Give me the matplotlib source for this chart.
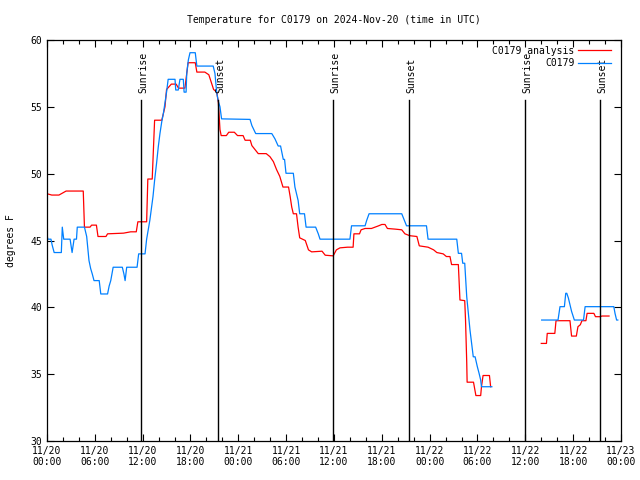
import numpy as np
import matplotlib
matplotlib.use("Agg")
from matplotlib import pyplot as plt

# hours since 2024-11-20 00:00 UTC
red_h = [0.0, 0.6, 1.5, 2.4, 4.55, 4.7, 5.4, 5.6, 6.2, 6.4, 7.4, 7.6, 9.6, 10.5, 11.2, 11.4,
         12.5, 12.65, 13.2, 13.5, 14.4, 14.8, 15.0, 15.6, 16.2, 16.5, 17.3, 17.7, 18.6, 18.8,
         19.8, 20.3, 20.9, 21.3, 21.5, 21.7, 21.85, 22.5, 22.8, 23.5, 23.9, 24.6, 24.85, 25.5,
         25.7, 26.1, 26.5, 27.5, 27.97, 28.4, 28.8, 29.2, 29.6, 30.3, 30.5, 30.7, 30.9, 31.3,
         31.5, 31.7, 32.4, 32.8, 33.2, 34.5, 34.9, 35.9, 36.3, 36.75, 37.7, 38.4, 38.5, 39.2,
         39.4, 39.9, 40.7, 41.6, 42.0, 42.4, 42.7, 43.7, 44.5, 44.9, 45.5, 46.4, 46.7, 47.8,
         48.5, 48.9, 49.7, 50.1, 50.55, 50.75, 51.6, 51.8, 52.4, 52.5, 52.65, 52.7, 53.5, 53.8,
         54.4, 54.5, 54.7, 55.5, 55.65,
         None,
         62.0, 62.65, 62.75, 63.7, 63.85, 65.6, 65.8, 66.4, 66.6, 66.9, 67.1, 67.6, 67.75,
         68.6, 68.8, 69.4, 69.6, 70.5]
red_t = [48.5, 48.4, 48.4, 48.7, 48.7, 46.0, 46.0, 46.15, 46.15, 45.3, 45.3, 45.5, 45.55, 45.65, 45.65, 46.4,
         46.4, 49.6, 49.6, 54.0, 54.0, 55.0, 56.3, 56.7, 56.7, 56.4, 56.4, 58.3, 58.3, 57.6,
         57.6, 57.4, 56.3, 56.1, 55.3, 53.3, 52.85, 52.85, 53.1, 53.1, 52.85, 52.85, 52.5, 52.5,
         52.1, 51.8, 51.5, 51.5, 51.27, 50.9, 50.3, 49.8, 49.0, 49.0, 48.3, 47.5, 47.0, 47.0,
         46.0, 45.2, 45.0, 44.3, 44.15, 44.2, 43.9, 43.85, 44.3, 44.45, 44.5, 44.5, 45.5, 45.5,
         45.8, 45.9, 45.9, 46.1, 46.2, 46.2, 45.9, 45.85, 45.8, 45.5, 45.36, 45.3, 44.6, 44.5,
         44.3, 44.1, 44.0, 43.8, 43.8, 43.2, 43.2, 40.55, 40.5, 39.05, 35.9, 34.4, 34.4, 33.4,
         33.4, 34.06, 34.9, 34.9, 34.06,
         None,
         37.3, 37.3, 38.05, 38.05, 39.0, 39.0, 37.85, 37.85, 38.55, 38.7, 39.0, 39.0, 39.55,
         39.55, 39.3, 39.3, 39.35, 39.35]

blue_h = [0.0, 0.1, 0.5, 0.65, 0.9, 1.8, 1.92, 2.1, 2.9, 3.05, 3.15, 3.4, 3.7, 3.8, 4.7, 4.98,
          5.27, 5.48, 5.68, 5.9, 6.55, 6.75, 7.6, 7.8, 8.0, 8.3, 9.45, 9.65, 9.8, 10.0, 11.3,
          11.5, 12.3, 12.5, 12.7, 12.9, 13.1, 13.3, 13.5, 13.75, 13.96, 14.17, 14.4, 14.6, 14.8,
          15.0, 15.2, 16.06, 16.15, 16.47, 16.68, 17.1, 17.2, 17.45, 17.53, 17.73, 17.94, 18.6,
          18.8, 20.85, 21.07, 21.3, 21.5, 21.7, 21.9, 25.47, 25.7, 26.18, 28.2, 28.6, 29.0,
          29.3, 29.64, 29.8, 29.98, 30.9, 31.1, 31.3, 31.5, 31.7, 32.3, 32.5, 33.7, 34.03,
          34.25, 38.0, 38.2, 39.9, 40.1, 40.4, 44.5, 44.9, 45.1, 47.6, 47.8, 51.4, 51.6, 52.0,
          52.15, 52.4, 52.65, 52.85, 53.06, 53.27, 53.47, 53.7, 53.98, 54.2, 54.4, 54.5, 55.8,
          None,
          62.05, 64.1, 64.35, 64.9, 65.07, 65.2, 65.4, 65.6, 65.8, 66.15, 67.3, 67.5, 71.1,
          71.25, 71.45, 71.6]
blue_t = [45.5, 45.1, 45.1, 44.66, 44.1, 44.1, 46.0, 45.1, 45.1, 44.5, 44.1, 45.1, 45.1, 46.0, 46.0, 45.3,
          43.5, 42.9, 42.5, 42.0, 42.0, 41.0, 41.0, 41.6, 42.0, 43.0, 43.0, 42.5, 42.0, 43.0, 43.0,
          44.0, 44.0, 45.1, 45.8, 46.5, 47.4, 48.3, 49.5, 50.8, 52.0, 53.0, 53.9, 54.5, 55.3,
          56.1, 57.06, 57.06, 56.26, 56.26, 57.06, 57.06, 56.1, 56.1, 57.5, 58.5, 59.05, 59.05,
          58.05, 58.05, 57.5, 56.0, 55.4, 55.0, 54.1, 54.06, 53.6, 53.0, 53.0, 52.6, 52.07,
          52.07, 51.07, 51.07, 50.03, 50.03, 49.0, 48.5, 48.0, 47.0, 47.0, 46.0, 46.0, 45.5,
          45.1, 45.1, 46.1, 46.1, 46.5, 47.0, 47.0, 46.4, 46.1, 46.1, 45.1, 45.1, 44.04, 44.04,
          43.3, 43.3, 40.8, 39.55, 38.3, 37.3, 36.3, 36.3, 35.56, 35.06, 34.56, 34.06, 34.06,
          None,
          39.05, 39.05, 40.05, 40.05, 41.05, 41.05, 40.7, 40.2, 39.7, 39.05, 39.05, 40.05, 40.05,
          39.55, 39.05, 39.05]

sun_h = [11.79, 21.45, 35.87, 45.41, 59.96, 69.37]
sun_lbl = ["Sunrise", "Sunset", "Sunrise", "Sunset", "Sunrise", "Sunset"]

xtick_h = list(range(0, 73, 6))
xtick_lbl = ["11/20\n00:00", "11/20\n06:00", "11/20\n12:00", "11/20\n18:00",
             "11/21\n00:00", "11/21\n06:00", "11/21\n12:00", "11/21\n18:00",
             "11/22\n00:00", "11/22\n06:00", "11/22\n12:00", "11/22\n18:00",
             "11/23\n00:00"]
ytick = [30, 35, 40, 45, 50, 55, 60]

def arr(v):
    return np.array([np.nan if a is None else a for a in v], dtype=float)

plt.rcParams['font.family'] = 'DejaVu Sans Mono'
plt.rcParams['font.size'] = 7

fig = plt.figure(figsize=(6.4, 4.8), dpi=100)
ax = fig.add_axes([0.0734, 0.08125, 0.8969, 0.8354])

ax.plot(arr(red_h), arr(red_t), color='#ff0000', lw=0.9, label='C0179 analysis')
ax.plot(arr(blue_h), arr(blue_t), color='#0080ff', lw=0.9, label='C0179')

for h, s in zip(sun_h, sun_lbl):
    ax.plot([h, h], [30, 55.5], color='black', lw=1.0)
    ax.text(h + 0.3, 56.0, s, rotation=90, ha='center', va='bottom', fontsize=7)

ax.set_xlim(0, 72)
ax.set_ylim(30, 60)
ax.set_xticks(xtick_h)
ax.set_xticklabels(xtick_lbl)
ax.set_xticks(range(0, 73, 2), minor=True)
ax.set_yticks(ytick)
ax.tick_params(direction='in', top=True, right=True, length=5, width=0.8, labelsize=7)
ax.tick_params(which='minor', direction='in', top=True, length=3, width=0.8)
for sp in ax.spines.values():
    sp.set_linewidth(0.9)

ax.set_title('Temperature for C0179 on 2024-Nov-20 (time in UTC)', fontsize=7, pad=12)
ax.set_ylabel('degrees F', fontsize=7, labelpad=10)

leg = ax.legend(loc='upper right', frameon=False, fontsize=7, markerfirst=False,
                handlelength=3.3, borderaxespad=0.2, labelspacing=0.25, handletextpad=0.4,
                bbox_to_anchor=(0.992, 1.0))
for t in leg.get_texts():
    t.set_ha('right')

fig.savefig('out.png', dpi=100)
